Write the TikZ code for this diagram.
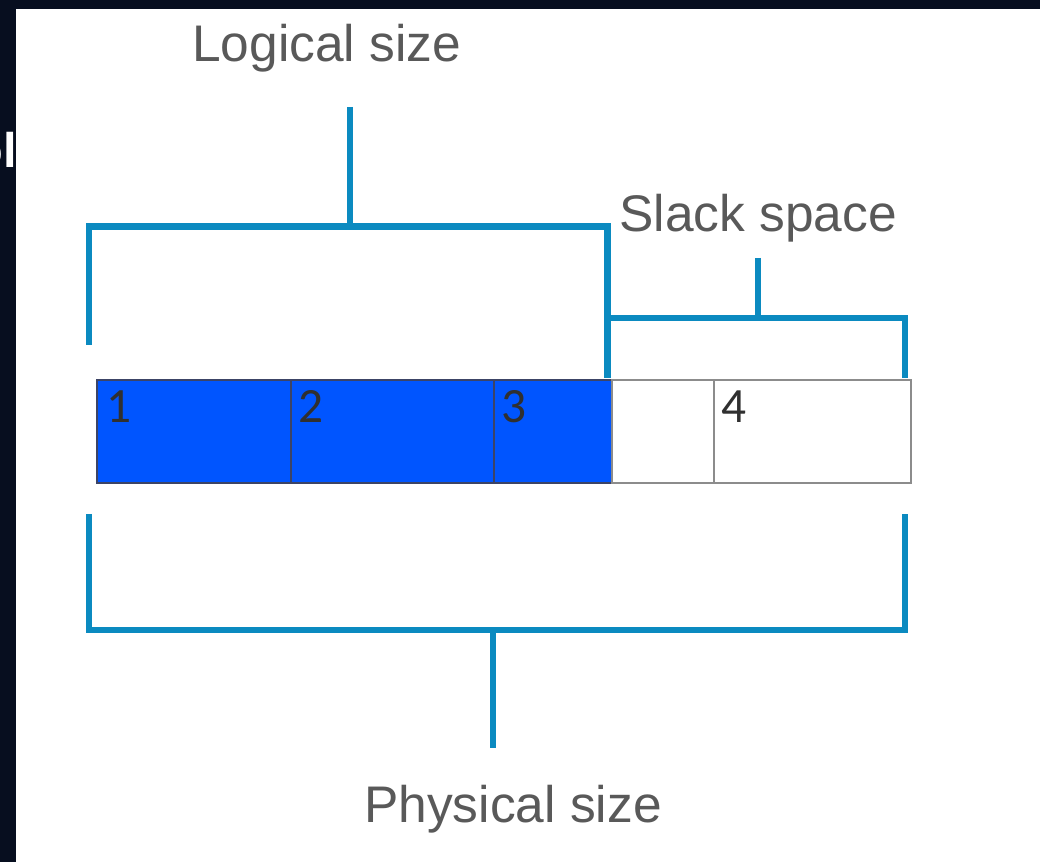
\documentclass[tikz,border=0pt]{standalone}
\usepackage{fontspec}
\setmainfont{Liberation Sans}
\newfontfamily\numfont{Carlito}
\newfontfamily\fragfont{Liberation Sans}
\definecolor{bgdark}{HTML}{070E1F}
\definecolor{brk}{HTML}{0B8AC0}
\definecolor{txtgray}{HTML}{595959}
\definecolor{cellblue}{HTML}{0055FF}
\definecolor{bluebord}{HTML}{3C4466}
\definecolor{whitebord}{HTML}{8C8C8C}
\definecolor{numcol}{HTML}{303030}
\tikzset{
  bracketline/.style={draw=brk, line width=4.6pt, line join=miter, line cap=butt},
  lbl/.style={anchor=base west, inner sep=0pt, text=txtgray, font=\fontsize{38.6}{46}\selectfont},
  numlbl/.style={anchor=base west, inner sep=0pt, text=numcol, font=\numfont\fontsize{37}{44}\selectfont},
  cellbox/.style={draw, inner sep=0pt, minimum height=77.25pt},
  bluecell/.style={cellbox, fill=cellblue, draw=bluebord, line width=1pt},
  whitecell/.style={cellbox, fill=white, draw=whitebord, line width=1.3pt},
}
\begin{document}
\begin{tikzpicture}[x=0.75pt,y=-0.75pt]
\useasboundingbox (0,0) rectangle (1040,862);
\fill[bgdark] (0,0) rectangle (1040,862);
% cut-off fragment of text at the left edge
\node[anchor=base west, inner sep=0pt, text=white, font=\fragfont\bfseries\fontsize{36.5}{44}\selectfont] (frag) at (-27,168) {ol};
\fill[white] (16,9) rectangle (1040,862);

% cells
\node[bluecell, minimum width=145.5pt] (c1) at (194,431.5) {};
\node[bluecell, minimum width=152.25pt] (c2) at (392.5,431.5) {};
\node[bluecell, minimum width=88.5pt] (c3) at (553,431.5) {};
\node[whitecell, minimum width=76.5pt] (c4) at (663,431.5) {};
\node[whitecell, minimum width=147.75pt] (c5) at (812.5,431.5) {};
\node[numlbl] (n1) at (106,423) {1};
\node[numlbl] (n2) at (298,423) {2};
\node[numlbl] (n3) at (501,423) {3};
\node[numlbl] (n4) at (721,423) {4};

% labels
\node[lbl] (logical) at (192,62) {Logical size};
\node[lbl] (slack) at (619,232) {Slack space};
\node[lbl] (physical) at (364,822) {Physical size};

% bracket coordinates
\coordinate (la) at (89,345);
\coordinate (lb) at (89,226.5);
\coordinate (lc) at (607.5,226.5);
\coordinate (ld) at (607.5,378);
\coordinate (ls0) at (350,107);
\coordinate (ls1) at (350,226.5);
\coordinate (sa) at (607.5,318);
\coordinate (sb) at (905,318);
\coordinate (sc) at (905,378);
\coordinate (ss0) at (758,258);
\coordinate (ss1) at (758,318);
\coordinate (pa) at (89,514);
\coordinate (pb) at (89,630);
\coordinate (pc) at (905,630);
\coordinate (pd) at (905,514);
\coordinate (ps0) at (493,630);
\coordinate (ps1) at (493,748);

\draw[bracketline] (la) -- (lb) -- (lc) -- (ld);
\draw[bracketline] (ls0) -- (ls1);
\draw[bracketline] (sa) -- (sb) -- (sc);
\draw[bracketline] (ss0) -- (ss1);
\draw[bracketline] (pa) -- (pb) -- (pc) -- (pd);
\draw[bracketline] (ps0) -- (ps1);
\end{tikzpicture}
\end{document}
